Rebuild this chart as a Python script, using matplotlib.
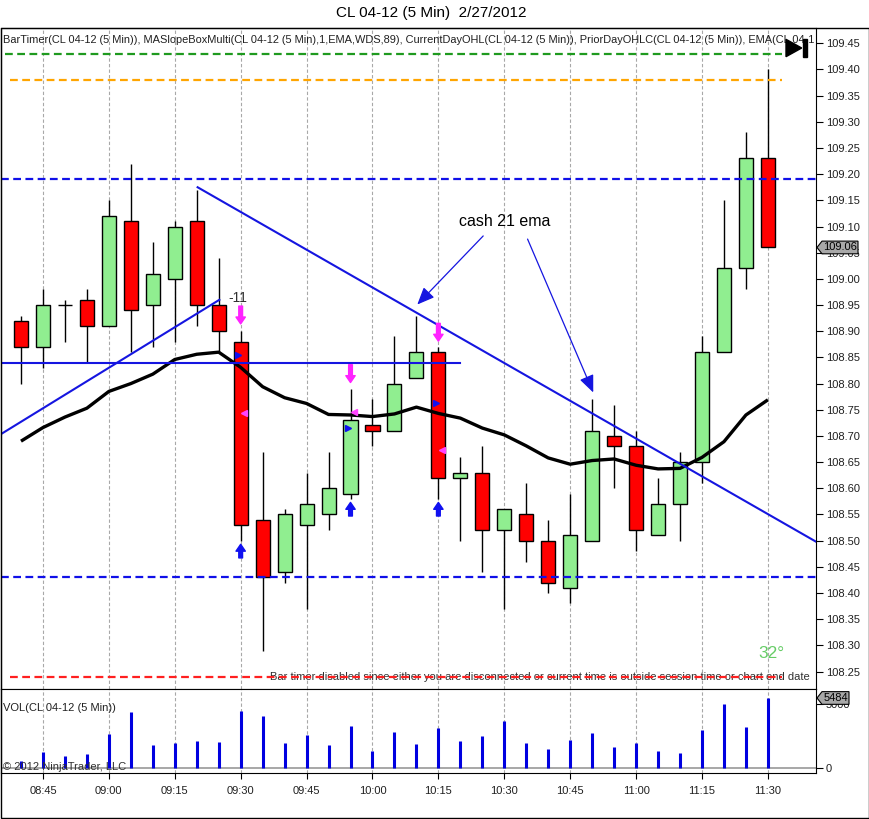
import matplotlib
matplotlib.use("Agg")
from matplotlib import pyplot as plt
from matplotlib.patches import Polygon, Rectangle
import numpy as np

plt.rcParams['font.family'] = ['Liberation Sans', 'DejaVu Sans']

# 5 min bars, CL 04-12, 2/27/2012
times = ['08:40', '08:45', '08:50', '08:55', '09:00', '09:05', '09:10', '09:15', '09:20', '09:25',
         '09:30', '09:35', '09:40', '09:45', '09:50', '09:55', '10:00', '10:05', '10:10', '10:15',
         '10:20', '10:25', '10:30', '10:35', '10:40', '10:45', '10:50', '10:55', '11:00', '11:05',
         '11:10', '11:15', '11:20', '11:25', '11:30']
opens = [108.92, 108.87, 108.95, 108.96, 108.91, 109.11, 108.95, 109.00, 109.11, 108.95,
         108.88, 108.54, 108.44, 108.53, 108.55, 108.59, 108.72, 108.71, 108.81, 108.86,
         108.62, 108.63, 108.52, 108.55, 108.50, 108.41, 108.50, 108.70, 108.68, 108.51,
         108.57, 108.65, 108.86, 109.02, 109.23]
highs = [108.93, 108.98, 108.96, 108.98, 109.15, 109.22, 109.07, 109.11, 109.17, 109.04,
         108.90, 108.67, 108.56, 108.63, 108.67, 108.79, 108.77, 108.89, 108.93, 108.87,
         108.66, 108.68, 108.56, 108.61, 108.54, 108.59, 108.77, 108.76, 108.71, 108.62,
         108.67, 108.89, 109.15, 109.28, 109.40]
lows = [108.80, 108.83, 108.88, 108.84, 108.91, 108.86, 108.87, 108.88, 108.91, 108.86,
        108.50, 108.29, 108.42, 108.37, 108.52, 108.58, 108.68, 108.71, 108.81, 108.58,
        108.50, 108.44, 108.37, 108.46, 108.40, 108.38, 108.50, 108.60, 108.48, 108.51,
        108.50, 108.61, 108.86, 108.98, 109.06]
closes = [108.87, 108.95, 108.95, 108.91, 109.12, 108.94, 109.01, 109.10, 108.95, 108.90,
          108.53, 108.43, 108.55, 108.57, 108.60, 108.73, 108.71, 108.80, 108.86, 108.62,
          108.63, 108.52, 108.56, 108.50, 108.42, 108.51, 108.71, 108.68, 108.52, 108.57,
          108.65, 108.86, 109.02, 109.23, 109.06]
ema21 = [108.690, 108.716, 108.736, 108.753, 108.785, 108.800, 108.818, 108.846, 108.856, 108.860,
         108.831, 108.794, 108.773, 108.762, 108.741, 108.740, 108.737, 108.742, 108.755, 108.743,
         108.734, 108.715, 108.702, 108.681, 108.658, 108.646, 108.653, 108.656, 108.644, 108.637,
         108.638, 108.659, 108.689, 108.740, 108.769]
volumes = [570, 1300, 960, 1120, 2680, 4390, 1820, 2000, 2130, 2050,
           4470, 4080, 2000, 2630, 1820, 3300, 1350, 2830, 1900, 3140,
           2130, 2520, 3690, 1970, 1510, 2210, 2750, 1660, 1970, 1350,
           1190, 2990, 5020, 3220, 5484]

last_price = 109.06
last_volume = 5484
prior_day_level = 109.43
prior_close_level = 109.38
day_levels = [109.19, 108.43]
bartimer_level = 108.24
flat_line_level = 108.84
flat_line_end = 20
rise_line = ([-0.93, 9.03], [108.703, 108.96])
fall_line = ([8.04, 36.19], [109.175, 108.498])
sig_bars = [10, 15, 19]
sig_down_top = [108.948, 108.836, 108.915]
sig_up_low = [108.467, 108.547, 108.547]
blue_tri = [108.854, 108.715, 108.763]
pink_tri = [108.744, 108.745, 108.674]
note_text = (22.03, 109.109)
note_arrows = [((21.04, 109.082), (18.04, 108.951)), ((23.06, 109.076), (26.05, 108.783))]

W, H = 870, 819
AXW = 815.5
x = np.arange(len(times))
o = np.array(opens); c = np.array(closes)
grid_idx = list(range(1, len(times), 3))

fig = plt.figure(figsize=(W / 100, H / 100), dpi=100)
ax = fig.add_axes([0.5 / W, 1 - 689 / H, AXW / W, 661 / H])
axv = fig.add_axes([0.5 / W, 1 - 773 / H, AXW / W, 84 / H], sharex=ax)

fig.add_artist(Rectangle((0.5 / W, 1 - 818 / H), 868.5 / W, 790 / H, transform=fig.transFigure,
                         fill=False, ec='black', lw=1))
fig.text(431 / W, 1 - 13.5 / H, 'CL 04-12 (5 Min)  2/27/2012', ha='center', va='center', fontsize=11)

# candles
cols = np.where(c >= o, '#90EE90', '#FF0000')
ax.vlines(x, lows, highs, color='black', lw=1, zorder=3)
ax.bar(x, np.abs(c - o), 0.64, bottom=np.minimum(o, c), color=cols, edgecolor='black', lw=1, zorder=4)
ax.plot(x, ema21, color='black', lw=2.4, zorder=5, solid_capstyle='butt')

# levels and drawn lines
dash = (0, (3.5, 2))
ax.plot([-0.73, 34.64], [prior_day_level] * 2, color='#1f9a1f', lw=1.6, ls=dash, zorder=6)
ax.plot([-0.5, 34.64], [prior_close_level] * 2, color='#FFA500', lw=1.6, ls=dash, zorder=6)
for lv in day_levels:
    ax.axhline(lv, color='#1010E8', lw=1.6, ls=dash, zorder=6)
ax.text(35.9, bartimer_level, 'Bar timer disabled since either you are disconnected or current time '
        'is outside session time or chart end date', ha='right', va='center', fontsize=8,
        color='#303030', zorder=3)
ax.plot([-0.5, 34.64], [bartimer_level] * 2, color='#FF2020', lw=1.6, ls=dash, zorder=6)
ax.plot([-0.93, flat_line_end], [flat_line_level] * 2, color='#1515E0', lw=1.5, zorder=6)
ax.plot(*rise_line, color='#1515E0', lw=1.5, zorder=6)
ax.plot(*fall_line, color='#1515E0', lw=1.5, zorder=6)

# signal markers
for i, top, low in zip(sig_bars, sig_down_top, sig_up_low):
    ax.annotate('', xy=(i, top - 0.034), xytext=(i, top),
                arrowprops=dict(arrowstyle='simple,head_length=0.55,head_width=0.75,tail_width=0.3',
                                color='#FF22FF', mutation_scale=9, shrinkA=0, shrinkB=0), zorder=7)
    ax.annotate('', xy=(i, low + 0.026), xytext=(i, low),
                arrowprops=dict(arrowstyle='simple,head_length=0.55,head_width=0.75,tail_width=0.3',
                                color='#1010F0', mutation_scale=9, shrinkA=0, shrinkB=0), zorder=7)
ax.plot(np.array(sig_bars) - 0.11, blue_tri, ls='none', marker='>', ms=5, color='#1010F0', zorder=7)
ax.plot(np.array(sig_bars) + 0.17, pink_tri, ls='none', marker='<', ms=5, color='#FF44FF', zorder=7)
ax.text(9.45, 108.963, '-11', ha='left', va='center', fontsize=10, color='#303030', zorder=7)

# note
ax.text(*note_text, 'cash 21 ema', ha='center', va='center', fontsize=11.5, zorder=7)
for start, tip in note_arrows:
    ax.annotate('', xy=tip, xytext=start,
                arrowprops=dict(arrowstyle='-|>,head_length=0.75,head_width=0.32', color='#1515E0',
                                lw=0.9, mutation_scale=14, shrinkA=0, shrinkB=0), zorder=7)

ax.text((771.7 - 0.5) / AXW, (689 - 653.3) / 661, '32°', transform=ax.transAxes, ha='center',
        va='center', fontsize=12.5, color='#66CC66', zorder=7)

ax.text(3 / AXW, (689 - 40) / 661, 'BarTimer(CL 04-12 (5 Min)), MASlopeBoxMulti(CL 04-12 (5 Min),1,EMA,WDS,89), '
        'CurrentDayOHL(CL 04-12 (5 Min)), PriorDayOHLC(CL 04-12 (5 Min)), EMA(CL 04-1',
        transform=ax.transAxes, ha='left', va='center', fontsize=7.95, color='#202020', zorder=7)

# play / stop icon
ax.add_patch(Polygon([[(786 - 0.5) / AXW, (689 - 39.3) / 661], [(786 - 0.5) / AXW, (689 - 56.7) / 661],
                      [(801.7 - 0.5) / AXW, (689 - 48) / 661]], closed=True, transform=ax.transAxes,
                     color='black', zorder=8))
ax.add_patch(Rectangle(((802.7 - 0.5) / AXW, (689 - 57.3) / 661), 4 / AXW, 18 / 661,
                       transform=ax.transAxes, color='black', zorder=8))

ax.set_xlim(-0.933, 36.19)
ax.set_ylim(108.2166, 109.4792)
ax.yaxis.tick_right()
ax.set_yticks(np.round(np.arange(108.25, 109.4501, 0.05), 2))
ax.yaxis.set_major_formatter(matplotlib.ticker.FormatStrFormatter('%.2f'))
ax.tick_params(axis='y', direction='out', length=5, width=0.8, labelsize=8, pad=2, labelcolor='#202020')
ax.set_xticks(grid_idx)
ax.tick_params(axis='x', length=0, labelbottom=False)
ax.grid(axis='x', color='#A8A8A8', ls=(0, (3, 2)), lw=0.8, zorder=0)
ax.set_axisbelow(True)


def price_tag(a, yv, text, hh, bw_px):
    # grey tag on the right axis, pointing left at the last value
    ytr = a.get_yaxis_transform()
    pw = 6 / AXW
    bw = bw_px / AXW
    poly = Polygon([[1.0 + 1 / AXW, yv], [1.0 + pw, yv + hh / 2], [1.0 + bw, yv + hh / 2],
                    [1.0 + bw, yv - hh / 2], [1.0 + pw, yv - hh / 2]], closed=True, transform=ytr,
                   fc='#A8A8A8', ec='black', lw=0.8, clip_on=False, zorder=9)
    a.add_patch(poly)
    a.text(1.0 + (pw + bw) / 2, yv, text, transform=ytr, ha='center', va='center', fontsize=8,
           clip_on=False, zorder=10)


price_tag(ax, last_price, '109.06', 12.7 / 523.5, 42)

# volume panel
axv.vlines(x, 0, volumes, color='#0000E0', lw=2.2, zorder=3)
axv.axhline(0, color='#A0A0A0', lw=1.3, zorder=2)
axv.set_ylim(-367, 6185)
axv.yaxis.tick_right()
axv.set_yticks([0, 5000])
axv.set_yticklabels(['0', '5000'])
axv.tick_params(axis='y', direction='out', length=5, width=0.8, labelsize=8, pad=2, labelcolor='#202020')
axv.set_xticks(grid_idx)
axv.set_xticklabels([times[i] for i in grid_idx])
axv.tick_params(axis='x', direction='out', length=4, width=0.8, labelsize=8, pad=5, labelcolor='#202020')
axv.grid(axis='x', color='#A8A8A8', ls=(0, (3, 2)), lw=0.8, zorder=0)
axv.set_axisbelow(True)
axv.text(3 / AXW, (773 - 707.7) / 84, 'VOL(CL 04-12 (5 Min))', transform=axv.transAxes, ha='left',
         va='center', fontsize=8, color='#202020')
axv.text(3 / AXW, (773 - 766.7) / 84, '© 2012 NinjaTrader, LLC', transform=axv.transAxes, ha='left',
         va='center', fontsize=8, color='#303030', zorder=5)
price_tag(axv, last_volume, '5484', 12.7 * 78, 33)

plt.savefig('out.png', dpi=100)
